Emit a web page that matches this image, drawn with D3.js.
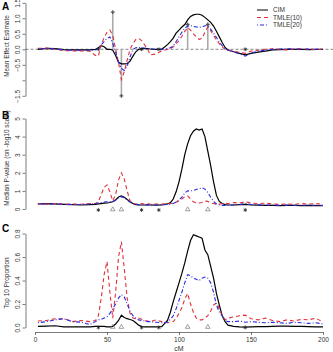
<!DOCTYPE html>
<html>
<head>
<meta charset="utf-8">
<script src="https://cdn.jsdelivr.net/npm/d3@7"></script>
<style>
body { margin: 0; background: #fff; }
svg { display: block; font-family: "Liberation Sans", Arial, sans-serif; }
</style>
</head>
<body>
<svg id="chart" width="333" height="352"></svg>
<script>
// map positions (cM), shared by every series
var pos = [2, 8, 14, 20, 26, 32, 38,
  42, 44, 46, 48, 50, 52, 54, 56, 58, 60,
  62, 64, 66, 68, 70, 72, 74, 76, 78, 80,
  84, 88, 92,
  94, 96, 98, 100, 102, 104, 106, 108, 110, 112,
  114, 116, 118, 120, 122, 124, 126, 128, 130, 132, 134,
  138, 142, 146, 150,
  155, 160, 165, 170, 175, 180, 185, 190, 195, 200];

// panel A: mean effect estimate
var effCIM = [0.0, 0.03, 0.02, -0.01, -0.02, -0.02, -0.02,
  0.0, 0.05, 0.12, 0.08, 0.0, 0.0, -0.03, -0.2, -0.42, -0.47,
  -0.47, -0.46, -0.38, -0.22, -0.08, 0.0, 0.02, 0.02, 0.02, 0.01,
  0.0, 0.0, 0.15,
  0.25, 0.36, 0.52, 0.62, 0.72, 0.8, 0.95, 1.06, 1.11, 1.13,
  1.13, 1.1, 1.03, 0.95, 0.87, 0.75, 0.58, 0.4, 0.22, 0.06, -0.02,
  -0.08, -0.13, -0.18, -0.13,
  -0.09, -0.06, -0.02, -0.01, 0.0, 0.0, 0.0, -0.01, 0.0, 0.0];
var effT10 = [0.03, 0.04, 0.0, -0.04, -0.05, -0.05, -0.06,
  -0.2, -0.22, 0.15, 0.38, 0.55, 0.62, 0.45, 0.0, -0.42, -0.98,
  -0.72, -0.35, 0.0, 0.18, 0.32, 0.35, 0.28, 0.15, 0.03, -0.18,
  -0.15, -0.05, 0.0,
  0.02, 0.08, 0.18, 0.28, 0.42, 0.58, 0.7, 0.62, 0.5, 0.4,
  0.32, 0.35, 0.55, 0.72, 0.6, 0.45, 0.3, 0.18, 0.08, 0.0, -0.03,
  -0.06, -0.1, -0.13, -0.06,
  -0.03, 0.0, 0.02, 0.0, -0.02, 0.01, 0.02, 0.0, -0.01, 0.0];
var effT20 = [0.02, 0.03, 0.01, -0.02, -0.03, -0.03, -0.03,
  -0.02, 0.05, 0.15, 0.25, 0.35, 0.4, 0.2, -0.1, -0.4, -0.62,
  -0.68, -0.55, -0.25, 0.0, 0.05, 0.06, 0.05, 0.04, 0.03, 0.02,
  0.0, 0.0, 0.02,
  0.05, 0.1, 0.25, 0.4, 0.55, 0.68, 0.75, 0.76, 0.74, 0.72,
  0.71, 0.72, 0.76, 0.76, 0.65, 0.52, 0.38, 0.23, 0.12, 0.03, -0.03,
  -0.08, -0.15, -0.22, -0.12,
  -0.06, -0.03, 0.0, 0.01, 0.02, 0.01, 0.0, 0.01, 0.0, 0.0];

// panel B: median p-value, -log10
var pvCIM = [0.28, 0.3, 0.28, 0.26, 0.24, 0.22, 0.24,
  0.26, 0.28, 0.3, 0.32, 0.33, 0.36, 0.4, 0.5, 0.66, 0.72,
  0.65, 0.52, 0.4, 0.3, 0.24, 0.22, 0.22, 0.22, 0.23, 0.22,
  0.21, 0.22, 0.28,
  0.35, 0.55, 0.95, 1.5, 2.2, 3.0, 3.6, 4.05, 4.3, 4.42,
  4.36, 4.42, 4.0, 3.2, 2.4, 1.5, 0.75, 0.42, 0.3, 0.24, 0.22,
  0.22, 0.24, 0.26, 0.22,
  0.21, 0.2, 0.2, 0.19, 0.2, 0.2, 0.19, 0.2, 0.19, 0.18];
var pvT10 = [0.3, 0.28, 0.3, 0.26, 0.28, 0.26, 0.3,
  0.3, 0.4, 0.8, 1.2, 1.33, 0.95, 0.45, 0.8, 1.6, 2.0,
  1.65, 1.0, 0.45, 0.3, 0.28, 0.26, 0.3, 0.28, 0.3, 0.26,
  0.28, 0.27, 0.3,
  0.3, 0.32, 0.38, 0.45, 0.55, 0.68, 0.72, 0.55, 0.4, 0.34,
  0.33, 0.36, 0.44, 0.42, 0.34, 0.3, 0.26, 0.27, 0.3, 0.32, 0.3,
  0.35, 0.33, 0.4, 0.33,
  0.3, 0.32, 0.28, 0.25, 0.28, 0.26, 0.3, 0.27, 0.3, 0.26];
var pvT20 = [0.28, 0.29, 0.27, 0.26, 0.25, 0.25, 0.27,
  0.3, 0.33, 0.36, 0.38, 0.4, 0.4, 0.42, 0.5, 0.62, 0.68,
  0.62, 0.5, 0.38, 0.3, 0.26, 0.24, 0.23, 0.24, 0.23, 0.23,
  0.22, 0.23, 0.25,
  0.26, 0.3, 0.38, 0.5, 0.65, 0.88, 1.0, 1.0, 1.02, 1.08,
  1.12, 1.18, 1.1, 0.92, 0.65, 0.42, 0.28, 0.22, 0.2, 0.2, 0.21,
  0.22, 0.25, 0.3, 0.25,
  0.23, 0.22, 0.22, 0.2, 0.22, 0.2, 0.21, 0.2, 0.21, 0.2];

// panel C: top 10 proportion
var topCIM = [0.01, 0.012, 0.015, 0.005, 0.005, 0.005, 0.005,
  0.01, 0.01, 0.01, 0.01, 0.005, 0.005, 0.01, 0.03, 0.06, 0.105,
  0.085, 0.075, 0.068, 0.06, 0.04, 0.02, 0.008, 0.005, 0.005, 0.005,
  0.005, 0.008, 0.06,
  0.13, 0.22, 0.3, 0.38, 0.46, 0.55, 0.65, 0.74, 0.79, 0.78,
  0.77, 0.76, 0.66, 0.62, 0.52, 0.42, 0.29, 0.19, 0.1, 0.05, 0.02,
  0.01, 0.005, 0.003, 0.005,
  0.008, 0.008, 0.01, 0.012, 0.012, 0.01, 0.01, 0.008, 0.006, 0.005];
var topT10 = [0.055, 0.06, 0.075, 0.075, 0.05, 0.06, 0.05,
  0.06, 0.1, 0.25, 0.45, 0.56, 0.3, 0.08, 0.3, 0.6, 0.73,
  0.5, 0.25, 0.12, 0.08, 0.075, 0.08, 0.07, 0.06, 0.055, 0.05,
  0.065, 0.05, 0.04,
  0.045, 0.05, 0.08, 0.12, 0.17, 0.24, 0.29, 0.2, 0.13, 0.08,
  0.065, 0.065, 0.08, 0.1, 0.14, 0.19, 0.21, 0.16, 0.1, 0.065, 0.08,
  0.09, 0.1, 0.105, 0.075,
  0.065, 0.08, 0.06, 0.05, 0.065, 0.055, 0.07, 0.065, 0.08, 0.045];
var topT20 = [0.04, 0.05, 0.065, 0.075, 0.05, 0.045, 0.025,
  0.05, 0.065, 0.07, 0.08, 0.09, 0.12, 0.16, 0.2, 0.25, 0.28,
  0.26, 0.2, 0.14, 0.1, 0.08, 0.065, 0.06, 0.055, 0.05, 0.05,
  0.045, 0.04, 0.045,
  0.07, 0.1, 0.16, 0.23, 0.3, 0.38, 0.45, 0.44, 0.42, 0.41,
  0.4, 0.42, 0.43, 0.42, 0.38, 0.3, 0.19, 0.13, 0.1, 0.06, 0.05,
  0.05, 0.055, 0.045, 0.05,
  0.045, 0.04, 0.045, 0.04, 0.035, 0.045, 0.04, 0.035, 0.04, 0.03];

// true QTL positions / effects, and null markers
var qtlPos = [54, 60, 106, 120];
var qtlEffect = [1.2, -1.5, 0.8, 0.8];
var nullPos = [44, 74, 86, 146];

var seriesNames = ["CIM", "TMLE(10)", "TMLE(20)"];
var xTicks = [0, 50, 100, 150, 200];
var ticksA = [-1.5, -1, -0.5, 0, 0.5, 1, 1.5];
var ticksB = [0, 1, 2, 3, 4, 5];
var ticksC = [0, 0.2, 0.4, 0.6, 0.8];

var colors = ["#000000", "#e0303a", "#2a2ae0"];
var dashes = [null, "4,3", "1,2,4,2"];
var txt = "#333";

var svg = d3.select("#chart");
var x = d3.scaleLinear().domain([0, 200]).range([35, 323]);
var axisX = 25.5;

function drawPanel(p) {
  var y = d3.scaleLinear().domain(p.domain).range(p.range);
  var g = svg.append("g");

  var ax = g.append("g")
    .attr("transform", "translate(" + axisX + ",0)")
    .call(d3.axisLeft(y).tickValues(p.ticks).tickSize(3).tickSizeOuter(0)
      .tickFormat(p.fmt));
  ax.select(".domain").attr("stroke", "#444").attr("stroke-width", 0.7);
  ax.selectAll(".tick line").attr("stroke", "#444").attr("stroke-width", 0.7);
  ax.selectAll(".tick text")
    .attr("x", 0).attr("dy", 0)
    .attr("text-anchor", "middle")
    .attr("transform", "translate(-5.5,0) rotate(-90)")
    .attr("fill", txt)
    .style("font-size", "6.5px")
    .style("font-family", "'Liberation Sans', Arial, sans-serif");

  g.append("text")
    .attr("transform", "translate(9," + p.titleY + ") rotate(-90)")
    .attr("text-anchor", "middle")
    .attr("fill", txt)
    .style("font-size", "6.5px")
    .text(p.title);

  g.append("text")
    .attr("x", 2).attr("y", p.letterY)
    .style("font-size", "10px").style("font-weight", "bold")
    .text(p.letter);

  if (p.zeroLine) {
    g.append("line")
      .attr("x1", axisX).attr("x2", 333)
      .attr("y1", y(0)).attr("y2", y(0))
      .attr("stroke", "#555").attr("stroke-width", 0.7)
      .attr("stroke-dasharray", "3,2");
  }

  if (p.arrows) {
    qtlPos.forEach(function(q, i) {
      g.append("line")
        .attr("x1", x(q)).attr("x2", x(q))
        .attr("y1", y(0)).attr("y2", y(qtlEffect[i]))
        .attr("stroke", "#aaa").attr("stroke-width", 1.6);
      g.append("path")
        .attr("transform", "translate(" + x(q) + "," + y(qtlEffect[i]) + ")")
        .attr("d", d3.symbol(d3.symbolCross, 8)())
        .attr("fill", "#555");
    });
  }

  var line = d3.line()
    .x(function(d) { return x(d[0]); })
    .y(function(d) { return y(d[1]); });

  p.series.forEach(function(vals, k) {
    g.append("path")
      .datum(pos.map(function(c, i) { return [c, vals[i]]; }))
      .attr("d", line)
      .attr("fill", "none")
      .attr("stroke", colors[k])
      .attr("stroke-width", k === 0 ? 1.2 : 1.1)
      .attr("stroke-dasharray", dashes[k]);
  });

  // markers of simulated loci
  var my = p.markY != null ? p.markY : y(0);
  nullPos.forEach(function(c) {
    g.append("path")
      .attr("transform", "translate(" + x(c) + "," + my + ")")
      .attr("d", d3.symbol(d3.symbolAsterisk, 10)())
      .attr("fill", "none").attr("stroke", "#222").attr("stroke-width", 0.8);
  });
  if (!p.arrows) {
    qtlPos.forEach(function(c) {
      g.append("path")
        .attr("transform", "translate(" + x(c) + "," + (my - 0.5) + ")")
        .attr("d", d3.symbol(d3.symbolTriangle, 9)())
        .attr("fill", "none").attr("stroke", "#777").attr("stroke-width", 0.7);
    });
  }
  return y;
}

drawPanel({
  letter: "A", letterY: 10,
  domain: [-1.5, 1.5], range: [95.8, 2.8],
  ticks: ticksA,
  fmt: function(d) { return d === -1 ? "" : d3.format(".1f")(d); },
  title: "Mean Effect Estimate", titleY: 46,
  zeroLine: true, arrows: true,
  series: [effCIM, effT10, effT20]
});

drawPanel({
  letter: "B", letterY: 119,
  domain: [0, 5], range: [209, 118.5],
  ticks: ticksB,
  fmt: d3.format("d"),
  title: "Median P-value (on -log10 scale)", titleY: 158,
  markY: 210,
  series: [pvCIM, pvT10, pvT20]
});

drawPanel({
  letter: "C", letterY: 232,
  domain: [0, 0.8], range: [327.5, 233.5],
  ticks: ticksC,
  fmt: d3.format(".1f"),
  title: "Top 10 Proportion", titleY: 283,
  series: [topCIM, topT10, topT20]
});

// x axis under panel C
var xa = svg.append("g")
  .attr("transform", "translate(0,332)")
  .call(d3.axisBottom(x).tickValues(xTicks).tickSize(3).tickSizeOuter(0));
xa.select(".domain").attr("stroke", "#444").attr("stroke-width", 0.7);
xa.selectAll(".tick line").attr("stroke", "#444").attr("stroke-width", 0.7);
xa.selectAll(".tick text")
  .attr("y", 5).attr("fill", txt)
  .style("font-size", "6.5px")
  .style("font-family", "'Liberation Sans', Arial, sans-serif");

svg.append("text")
  .attr("x", x(100)).attr("y", 351)
  .attr("text-anchor", "middle").attr("fill", txt)
  .style("font-size", "7px")
  .text("cM");

// legend
var leg = svg.append("g").attr("transform", "translate(257,10)");
seriesNames.forEach(function(name, k) {
  leg.append("line")
    .attr("x1", 0).attr("x2", 11)
    .attr("y1", k * 7.5).attr("y2", k * 7.5)
    .attr("stroke", colors[k]).attr("stroke-width", 1)
    .attr("stroke-dasharray", dashes[k]);
  leg.append("text")
    .attr("x", 16).attr("y", k * 7.5).attr("dy", "0.35em")
    .attr("fill", txt)
    .style("font-size", "6.5px")
    .text(name);
});
</script>
</body>
</html>
